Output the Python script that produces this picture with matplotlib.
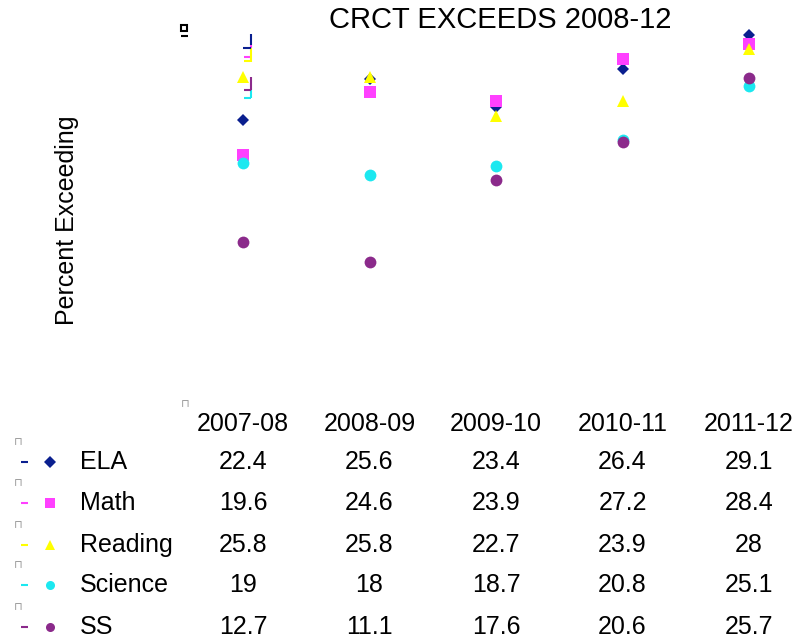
import matplotlib
matplotlib.use('Agg')
import matplotlib.pyplot as plt
from matplotlib.lines import Line2D

plt.rcParams['font.family'] = ['Liberation Sans', 'DejaVu Sans']

years = ['2007-08', '2008-09', '2009-10', '2010-11', '2011-12']
subjects = ['ELA', 'Math', 'Reading', 'Science', 'SS']
ela = [22.4, 25.6, 23.4, 26.4, 29.1]
math = [19.6, 24.6, 23.9, 27.2, 28.4]
reading = [25.8, 25.8, 22.7, 23.9, 28]
science = [19, 18, 18.7, 20.8, 25.1]
ss = [12.7, 11.1, 17.6, 20.6, 25.7]

colors = ['#0a1f8f', '#ff40ff', '#ffff00', '#1ce8f0', '#8b2a8b']
markers = ['D', 's', '^', 'o', 'o']
sizes = [6.5, 8, 9, 8.5, 8.5]

W, H = 800, 643
fig = plt.figure(figsize=(8, 6.43), dpi=100)
ax = fig.add_axes([180 / W, (H - 402) / H, 620 / W, 378 / H])

series = [ela, math, reading, science, ss]
for vals, c, m, s in zip(series, colors, markers, sizes):
	ax.plot(range(len(years)), vals, linestyle='none', marker=m, color=c,
		markersize=s, markeredgewidth=0)

ax.set_xlim(-0.5, 4.4)
ax.set_ylim(0, 30)
ax.axis('off')

fig.text(500 / W, 1 - 20 / H, 'CRCT EXCEEDS 2008-12', fontsize=21,
	ha='center', va='center')
fig.text(67 / W, 1 - 220 / H, 'Percent Exceeding', fontsize=18,
	rotation=90, ha='center', va='center')

def px_line(xs, ys, c, lw=1.5):
	fig.add_artist(Line2D([x / W for x in xs], [1 - y / H for y in ys],
		color=c, lw=lw, solid_capstyle='butt'))

# data table under the plot
col_x = [243 + 126.5 * i for i in range(len(years))]
row_y = [462, 503, 545, 585, 627]
for x, yr in zip(col_x, years):
	fig.text(x / W, 1 - 424 / H, yr, fontsize=18, ha='center', va='center')
fig.text(185 / W, 1 - 404 / H, '\u2293', fontsize=8, color='#999999',
	ha='center', va='center')

for name, vals, c, m, y in zip(subjects, series, colors, markers, row_y):
	yf = 1 - y / H
	px_line([21, 28], [y, y], c)
	fig.add_artist(Line2D([50 / W], [yf], marker=m, color=c, markersize=6.5,
		markeredgewidth=0, linestyle='none'))
	fig.text(18 / W, 1 - (y - 20) / H, '\u2293', fontsize=8, color='#999999',
		ha='center', va='center')
	fig.text(80 / W, yf, name, fontsize=18, ha='left', va='center')
	for x, v in zip(col_x, vals):
		fig.text(x / W, yf, f'{v:g}', fontsize=18, ha='center', va='center')

# stray legend keys near the top-left
fig.add_artist(Line2D([184 / W], [1 - 28 / H], marker='s', color='black',
	markerfacecolor='white', markersize=5, markeredgewidth=1.5, linestyle='none'))
px_line([181, 188], [36, 36], 'black')
px_line([251, 251], [34, 45], colors[0])
px_line([251, 251], [45, 48], colors[1])
px_line([251, 251], [48, 62], colors[2])
px_line([243, 251], [48, 48], colors[0])
px_line([244, 250], [57, 57], colors[1])
px_line([244, 250], [61, 61], colors[2])
px_line([251, 251], [77, 90], colors[4])
px_line([251, 251], [90, 98], colors[3])
px_line([244, 251], [90, 90], colors[4])
px_line([244, 251], [98, 98], colors[3])

fig.savefig('out.png', dpi=100)
